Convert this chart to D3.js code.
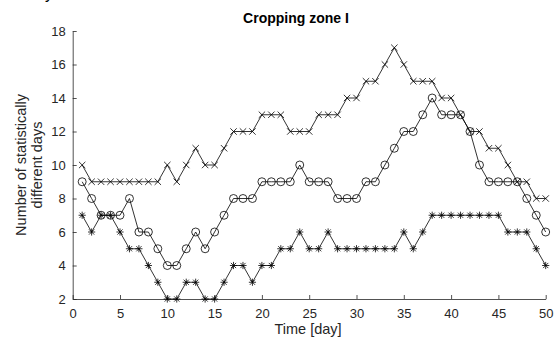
<!DOCTYPE html>
<html>
<head>
<meta charset="utf-8">
<script src="https://cdn.jsdelivr.net/npm/d3@7"></script>
<style>
body { margin: 0; background: #fff; }
svg { display: block; font-family: Arial, "Liberation Sans", sans-serif; }
</style>
</head>
<body>
<svg width="554" height="342"></svg>
<script>
var days = [1,2,3,4,5,6,7,8,9,10,11,12,13,14,15,16,17,18,19,20,
	21,22,23,24,25,26,27,28,29,30,31,32,33,34,35,36,37,38,39,40,
	41,42,43,44,45,46,47,48,49,50];

var crossVals = [10,9,9,9,9,9,9,9,9,10, 9,10,11,10,10,11,12,12,12,13,
	13,13,12,12,12,13,13,13,14,14, 15,15,16,17,16,15,15,15,14,14,
	13,12,12,11,11,10,9,9,8,8];

var circleVals = [9,8,7,7,7,8,6,6,5,4, 4,5,6,5,6,7,8,8,8,9,
	9,9,9,10,9,9,9,8,8,8, 9,9,10,11,12,12,13,14,13,13,
	13,12,10,9,9,9,9,8,7,6];

var starVals = [7,6,7,7,6,5,5,4,3,2, 2,3,3,2,2,3,4,4,3,4,
	4,5,5,6,5,5,6,5,5,5, 5,5,5,5,6,5,6,7,7,7,
	7,7,7,7,7,6,6,6,5,4];

var xTicks = [0,5,10,15,20,25,30,35,40,45,50];
var yTicks = [2,4,6,8,10,12,14,16,18];

var svg = d3.select('svg');

var x = d3.scaleLinear().domain([0, 50]).range([72.7, 545.7]);
var y = d3.scaleLinear().domain([2, 18]).range([299, 31]);

// axes, ticks pointing inward like matlab
var xAxis = d3.axisBottom(x).tickValues(xTicks).tickSizeInner(-4).tickSizeOuter(0).tickPadding(10);
var yAxis = d3.axisLeft(y).tickValues(yTicks).tickSizeInner(-4).tickSizeOuter(0).tickPadding(7);

var gx = svg.append('g').attr('transform', 'translate(0,' + y(2) + ')').call(xAxis);
var gy = svg.append('g').attr('transform', 'translate(' + x(0) + ',0)').call(yAxis);

[gx, gy].forEach(function(g) {
	g.selectAll('path, line').attr('stroke', '#262626').attr('stroke-width', 0.8);
	g.selectAll('text').attr('fill', '#262626').attr('font-size', 13).attr('font-family', 'Arial, "Liberation Sans", sans-serif');
});

var line = d3.line()
	.x(function(d) { return x(d[0]); })
	.y(function(d) { return y(d[1]); });

function drawSeries(vals, marker) {
	var pts = days.map(function(d, i) { return [d, vals[i]]; });
	svg.append('path')
		.attr('d', line(pts))
		.attr('fill', 'none')
		.attr('stroke', '#000')
		.attr('stroke-width', 0.8);
	svg.append('g').selectAll('path')
		.data(pts)
		.enter().append('path')
		.attr('transform', function(d) { return 'translate(' + x(d[0]) + ',' + y(d[1]) + ')'; })
		.attr('d', marker)
		.attr('fill', 'none')
		.attr('stroke', '#000')
		.attr('stroke-width', 0.8);
}

var s = 3.2;
var crossPath = 'M' + -s + ',' + -s + 'L' + s + ',' + s + 'M' + -s + ',' + s + 'L' + s + ',' + -s;
var circlePath = 'M4,0A4,4 0 1,1 -4,0A4,4 0 1,1 4,0Z';
var a = 3.6, b = 2.6;
var starPath = 'M0,' + -a + 'L0,' + a + 'M' + -a + ',0L' + a + ',0' +
	'M' + -b + ',' + -b + 'L' + b + ',' + b + 'M' + -b + ',' + b + 'L' + b + ',' + -b;

drawSeries(crossVals, crossPath);
drawSeries(circleVals, circlePath);
drawSeries(starVals, starPath);

// title and labels
svg.append('text')
	.attr('x', 296).attr('y', 23)
	.attr('text-anchor', 'middle')
	.attr('font-size', 14).attr('font-weight', 'bold')
	.text('Cropping zone I');

svg.append('text')
	.attr('x', 308).attr('y', 334)
	.attr('text-anchor', 'middle')
	.attr('font-size', 14.5).attr('fill', '#262626')
	.text('Time [day]');

var yl = svg.append('text')
	.attr('transform', 'translate(26,165) rotate(-90)')
	.attr('text-anchor', 'middle')
	.attr('font-size', 14.5).attr('fill', '#262626');
yl.append('tspan').attr('x', 0).attr('y', 0).text('Number of statistically');
yl.append('tspan').attr('x', 0).attr('y', 16).text('different days');

// descender of a caption line cut off above the figure
svg.append('text')
	.attr('x', 45).attr('y', -1)
	.attr('font-size', 16)
	.text('y');
</script>
</body>
</html>
